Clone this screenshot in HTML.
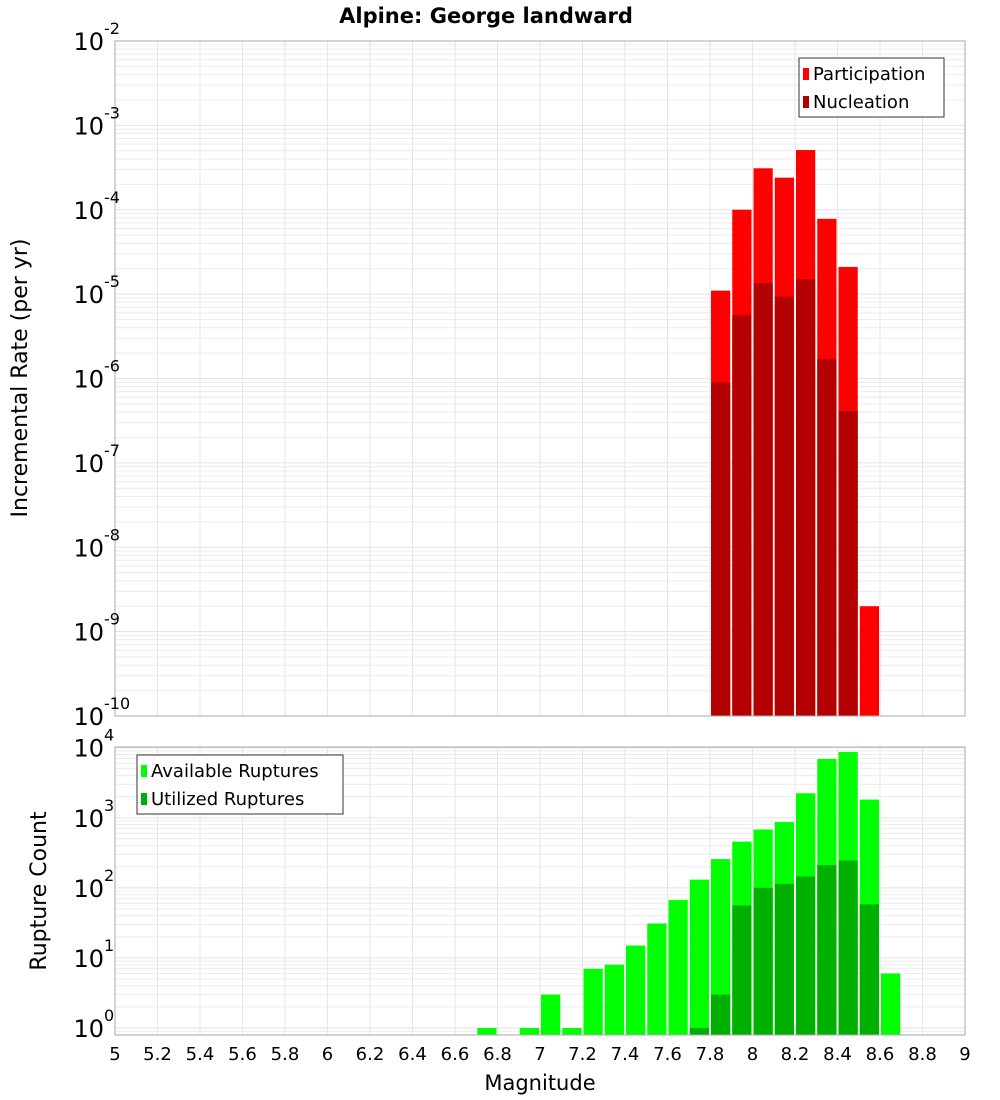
<!DOCTYPE html>
<html><head><meta charset="utf-8"><style>
body{margin:0;background:#fff;}
svg{display:block;font-family:"DejaVu Sans","Liberation Sans",sans-serif;}
</style></head><body>
<svg id="c" width="1000" height="1100" xmlns="http://www.w3.org/2000/svg">
<text x="486" y="23" text-anchor="middle" font-size="21" font-weight="bold">Alpine: George landward</text>
<text transform="translate(27,378) rotate(-90)" text-anchor="middle" font-size="22">Incremental Rate (per yr)</text>
<text transform="translate(46,891) rotate(-90)" text-anchor="middle" font-size="22">Rupture Count</text>
<text x="540" y="1090" text-anchor="middle" font-size="21">Magnitude</text>
<g id="topg"></g><g id="botg"></g>
</svg>
<script>
const binCenters=[7.85,7.95,8.05,8.15,8.25,8.35,8.45,8.55];
const participation=[1.1e-5,1.0e-4,3.1e-4,2.4e-4,5.1e-4,7.8e-5,2.1e-5,2.0e-9];
const nucleation=[9e-7,5.6e-6,1.35e-5,9.3e-6,1.5e-5,1.7e-6,4.1e-7,0];
const countBins=[6.75,6.95,7.05,7.15,7.25,7.35,7.45,7.55,7.65,7.75,7.85,7.95,8.05,8.15,8.25,8.35,8.45,8.55,8.65];
const available=[1,1,3,1,7,8,15,31,67,131,257,457,680,870,2240,6900,8700,1820,6];
const utilized=[0,0,0,0,0,0,0,0,0,1,3,56,100,114,145,210,245,58,0];
const xTicks=[5,5.2,5.4,5.6,5.8,6,6.2,6.4,6.6,6.8,7,7.2,7.4,7.6,7.8,8,8.2,8.4,8.6,8.8,9];
const topExps=[-2,-3,-4,-5,-6,-7,-8,-9,-10];
const botExps=[4,3,2,1,0];
const NS="http://www.w3.org/2000/svg";
const X0=115,X1=965;
const xs=m=>X0+(m-5)/4*(X1-X0);
function mk(p,t,a){const e=document.createElementNS(NS,t);for(const k in a)e.setAttribute(k,a[k]);p.appendChild(e);return e;}
const gTop=document.getElementById('topg'),gBot=document.getElementById('botg');
const TY0=41,TY1=716;
const ty=v=>TY0+(-2-Math.log10(v))/8*(TY1-TY0);
const BY0=747,BY1=1035;
const bTop=4.01,bBot=-0.1;
const by=v=>BY0+(bTop-Math.log10(v))/(bTop-bBot)*(BY1-BY0);
function grid(g,y0,y1,lo,hi,yf){
  for(let e=lo;e<hi;e++)for(let k=1;k<10;k++){const v=k*Math.pow(10,e);const y=yf(v);if(y<y0-0.5||y>y1+0.5)continue;
    const l=mk(g,'line',{x1:X0,x2:X1,y1:y,y2:y,stroke:k==1?'#e2e2e2':'#ececec','stroke-width':1});
    
    }
  xTicks.forEach(m=>{const l=mk(g,'line',{x1:xs(m),x2:xs(m),y1:y0,y2:y1,stroke:'#e6e6e6'});
    
    });
}
grid(gTop,TY0,TY1,-10,-1,ty);
grid(gBot,BY0,BY1,-1,5,by);
function bar(g,m,v,y0f,base,fill,name){
  if(!(v>0))return;
  const x=xs(m-0.05)+1,w=xs(m+0.05)-xs(m-0.05)-2,y=y0f(v);
  const r=mk(g,'rect',{x:x,y:y,width:w,height:base-y,fill:fill});
  
  
}
binCenters.forEach((m,i)=>bar(gTop,m,participation[i],ty,TY1,'#ff0000','participation-bar'));
binCenters.forEach((m,i)=>bar(gTop,m,nucleation[i],ty,TY1,'#b30000','nucleation-bar'));
countBins.forEach((m,i)=>bar(gBot,m,available[i],by,BY1,'#00ff00','available-bar'));
countBins.forEach((m,i)=>bar(gBot,m,utilized[i],by,BY1,'#00b000','utilized-bar'));
[[gTop,TY0,TY1,'top-plot-frame'],[gBot,BY0,BY1,'bottom-plot-frame']].forEach(([g,a,b,n])=>{
  const r=mk(g,'rect',{x:X0,y:a,width:X1-X0,height:b-a,fill:'none',stroke:'#aaa'});
  
  });
function ylab(g,e,y){
  const t=mk(g,'text',{x:104,y:y+9,'text-anchor':'end','font-size':24});
  
  
  t.textContent='10';
  const s=mk(g,'text',{x:104,y:y-7,'font-size':16});
  
  
  s.textContent=String(e);
}
topExps.forEach(e=>ylab(gTop,e,ty(Math.pow(10,e))));
botExps.forEach(e=>ylab(gBot,e,by(Math.pow(10,e))));
xTicks.forEach(m=>{const t=mk(gBot,'text',{x:xs(m),y:1060,'text-anchor':'middle','font-size':18});
  
  
  t.textContent=String(m);});
function legend(g,x,y,w,h,items,name){
  const b=mk(g,'rect',{x:x,y:y,width:w,height:h,fill:'#fff',stroke:'#333'});
  
  
  items.forEach(([lab,col],i)=>{
    const s=mk(g,'rect',{x:x+4,y:y+10+i*28,width:6,height:12,fill:col});
    
    
    const t=mk(g,'text',{x:x+14,y:y+22+i*28,'font-size':18});
    
    
    t.textContent=lab;});
}
legend(gTop,799,58,145,59,[['Participation','#ff0000'],['Nucleation','#b30000']],'top-legend');
legend(gBot,137,755,206,59,[['Available Ruptures','#00ff00'],['Utilized Ruptures','#00b000']],'bottom-legend');
</script>
</body></html>
